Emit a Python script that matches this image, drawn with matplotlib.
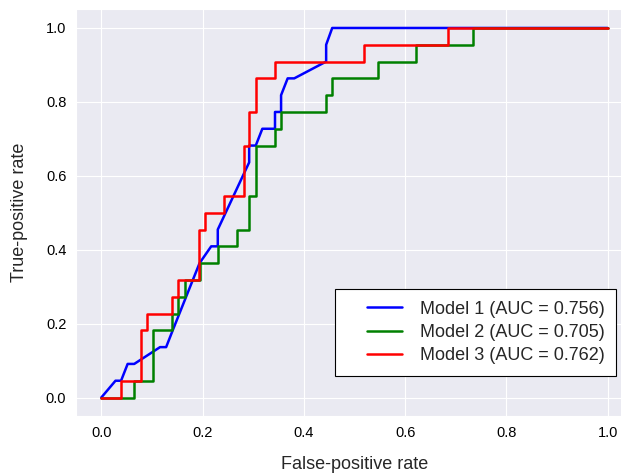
import numpy as np
import matplotlib
matplotlib.use("Agg")
import matplotlib.pyplot as plt
from matplotlib.lines import Line2D
from matplotlib.legend_handler import HandlerLine2D
import seaborn as sns

n_pos = 22

# model 1 (blue) - corner points, tpr as counts of positives
fpr_1 = [0.0, 0.028, 0.039, 0.052, 0.065, 0.116, 0.128, 0.141, 0.194, 0.217, 0.230, 0.230,
         0.292, 0.292, 0.305, 0.318, 0.343, 0.343, 0.355, 0.355, 0.368, 0.381, 0.444,
         0.444, 0.456, 1.0]
tp_1 = [0, 1, 1, 2, 2, 3, 3, 4, 8, 9, 9, 10, 14, 15, 15, 16, 16, 17, 17, 18, 19, 19, 20,
        21, 22, 22]

# model 2 (green)
fpr_2 = [0.0, 0.064, 0.064, 0.103, 0.103, 0.140, 0.140, 0.152, 0.152, 0.165, 0.165, 0.194,
         0.194, 0.230, 0.230, 0.268, 0.268, 0.292, 0.292, 0.305, 0.305, 0.343, 0.343, 0.355,
         0.355, 0.444, 0.444, 0.456, 0.456, 0.546, 0.546, 0.621, 0.621, 0.734, 0.734, 1.0]
tp_2 = [0, 0, 1, 1, 4, 4, 5, 5, 6, 6, 7, 7, 8, 8, 9, 9, 10, 10, 12, 12, 15, 15, 16, 16, 17,
        17, 18, 18, 19, 19, 20, 20, 21, 21, 22, 22]

# model 3 (red)
fpr_3 = [0.0, 0.039, 0.039, 0.078, 0.078, 0.090, 0.090, 0.140, 0.140, 0.152, 0.152, 0.192,
         0.192, 0.204, 0.204, 0.243, 0.243, 0.281, 0.281, 0.292, 0.292, 0.305, 0.305, 0.343,
         0.343, 0.519, 0.519, 0.684, 0.684, 1.0]
tp_3 = [0, 0, 1, 1, 4, 4, 5, 5, 6, 6, 7, 7, 10, 10, 11, 11, 12, 12, 15, 15, 17, 17, 19, 19,
        20, 20, 21, 21, 22, 22]

labels = ["Model 1 (AUC = 0.756)", "Model 2 (AUC = 0.705)", "Model 3 (AUC = 0.762)"]
colors = ["blue", "green", "red"]

sns.set_style("darkgrid")
plt.rcParams["font.family"] = ["Liberation Sans", "DejaVu Sans"]

fig = plt.figure(figsize=(6.21, 4.73), dpi=100)
ax = fig.add_axes([76 / 621, 57 / 473, 557 / 621, 406.5 / 473])

curves = [(fpr_1, tp_1), (fpr_2, tp_2), (fpr_3, tp_3)]
for (f, t), lab, c in zip(curves, labels, colors):
    ax.plot(f, np.array(t) / n_pos, color=c, lw=1.8, label=lab)

ax.set_xlim(-0.05, 1.05)
ax.set_ylim(-0.05, 1.05)
ax.set_xticks(np.arange(0, 1.01, 0.2))
ax.set_yticks(np.arange(0, 1.01, 0.2))
ax.tick_params(labelsize=10.5, colors="black")
ax.set_xlabel("False-positive rate", fontsize=13, labelpad=12)
ax.set_ylabel("True-positive rate", fontsize=13, labelpad=13)

leg = ax.legend(loc="lower right", bbox_to_anchor=(0.9695, 0.099), borderaxespad=0,
                fontsize=13, frameon=True, fancybox=False, framealpha=1,
                handlelength=3.06, handletextpad=0.98, borderpad=0.65, labelspacing=0.34,
                handler_map={Line2D: HandlerLine2D(xpad=1.12)})
leg.get_frame().set_edgecolor("black")
leg.get_frame().set_facecolor("white")
leg.get_frame().set_linewidth(0.8)

fig.savefig("out.png", dpi=100)
